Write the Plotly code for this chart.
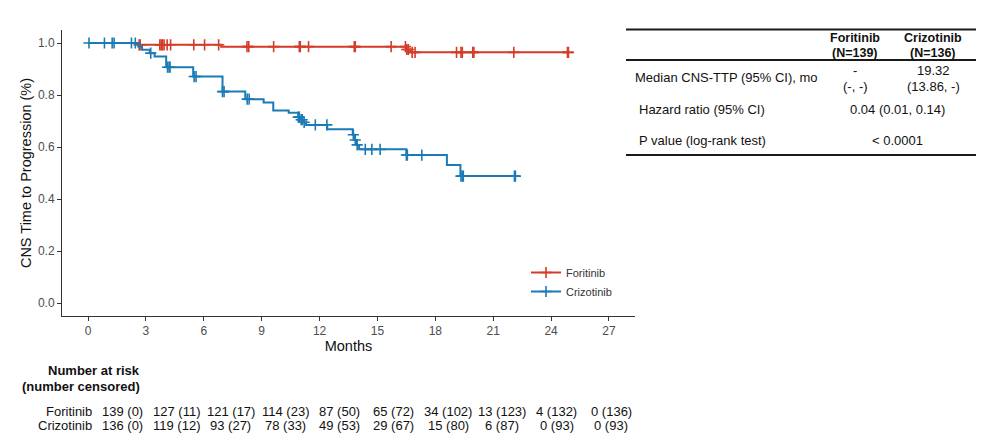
import plotly.graph_objects as go

# ---------------- data ----------------
month_ticks = [0, 3, 6, 9, 12, 15, 18, 21, 24, 27]
y_ticks = [0.0, 0.2, 0.4, 0.6, 0.8, 1.0]

series_names = ["Foritinib", "Crizotinib"]

foritinib_times = [0, 2.65, 6.9, 16.5, 16.7]
foritinib_surv = [1.0, 0.993, 0.986, 0.975, 0.964]
foritinib_end = 24.9
foritinib_censor = [2.65, 2.7, 3.72, 3.79, 3.85, 3.94, 4.1, 4.28, 5.48, 6.04, 6.77,
                    8.24, 8.33, 9.62, 10.95, 11.0, 11.43, 13.8, 13.85, 15.71, 16.45,
                    16.52, 16.6, 16.8, 16.95, 19.1, 19.33, 19.4, 19.94, 20.0, 22.07,
                    24.85, 24.9]

crizotinib_times = [0, 2.6, 2.8, 3.2, 3.45, 4.05, 5.45, 6.97, 8.15, 9.1, 9.6, 10.4,
                    10.9, 11.0, 11.15, 11.3, 12.4, 13.72, 13.82, 13.92, 14.05, 16.5,
                    18.6, 19.3]
crizotinib_surv = [1.0, 0.987, 0.974, 0.961, 0.948, 0.907, 0.871, 0.813, 0.784, 0.771,
                   0.740, 0.732, 0.715, 0.705, 0.695, 0.685, 0.668, 0.647, 0.627, 0.608,
                   0.591, 0.569, 0.531, 0.488]
crizotinib_end = 22.13
crizotinib_censor = [0.05, 0.85, 1.25, 1.35, 2.25, 2.45, 3.25, 4.12, 4.2, 4.25, 5.5,
                     5.6, 6.97, 7.05, 8.25, 8.35, 10.9, 10.95, 11.05, 11.1, 11.2, 11.78,
                     12.38, 13.75, 13.85, 13.95, 14.37, 14.71, 15.14, 16.5, 16.55, 17.3,
                     19.33, 19.4, 19.45, 22.1, 22.15]

risk_foritinib = [139, 127, 121, 114, 87, 65, 34, 13, 4, 0]
censored_foritinib = [0, 11, 17, 23, 50, 72, 102, 123, 132, 136]
risk_crizotinib = [136, 119, 93, 78, 49, 29, 15, 6, 0, 0]
censored_crizotinib = [0, 12, 27, 33, 53, 67, 80, 87, 93, 93]

header_names = ["Foritinib", "Crizotinib"]
header_n = ["(N=139)", "(N=136)"]
median_est = ["-", "19.32"]
median_ci = ["(-, -)", "(13.86, -)"]
hr_text = "0.04 (0.01, 0.14)"
p_text = "< 0.0001"

# ---------------- style ----------------
W, H = 991, 438
ML, MR, MT, MB = 62, 356, 30, 122
PW, PH = W - ML - MR, H - MT - MB
FONT = "Liberation Sans, Arial, sans-serif"
RED = "#D23C29"
BLUE = "#1A7BB6"
colors = [RED, BLUE]


def px(x):
    return (x - ML) / PW


def py(y):
    return (H - MB - y) / PH


def surv_at(times, surv, t):
    val = surv[0]
    for ti, s in zip(times, surv):
        if ti <= t:
            val = s
    return val


fig = go.Figure()

curves = [
    (foritinib_times, foritinib_surv, foritinib_end, foritinib_censor),
    (crizotinib_times, crizotinib_surv, crizotinib_end, crizotinib_censor),
]
for name, col, (times, surv, end, cens) in zip(series_names, colors, curves):
    fig.add_trace(go.Scatter(
        x=times + [end], y=surv + [surv[-1]], mode="lines",
        line=dict(color=col, width=2, shape="hv"), showlegend=False,
        hoverinfo="skip"))
    fig.add_trace(go.Scatter(
        x=cens, y=[surv_at(times, surv, t) for t in cens], mode="markers",
        marker=dict(symbol="cross-thin", size=8, line=dict(color=col, width=1.6)),
        showlegend=False, hoverinfo="skip"))
    fig.add_trace(go.Scatter(
        x=[None], y=[None], mode="lines+markers", name=name,
        line=dict(color=col, width=2),
        marker=dict(symbol="cross-thin", size=8, line=dict(color=col, width=1.6))))

axis_common = dict(showline=True, linecolor="#333333", linewidth=1, ticks="outside",
                   ticklen=4, tickcolor="#333333", showgrid=False, zeroline=False,
                   tickfont=dict(size=12, color="#4D4D4D", family=FONT))
fig.update_xaxes(range=[-1.35, 28.35], tickvals=month_ticks,
                 title=dict(text="Months", font=dict(size=14.5, color="#111111", family=FONT),
                            standoff=1),
                 **axis_common)
fig.update_yaxes(range=[-0.05, 1.05], tickvals=y_ticks, tickformat=".1f",
                 title=dict(text="CNS Time to Progression (%)",
                            font=dict(size=14.5, color="#111111", family=FONT), standoff=2),
                 **axis_common)

fig.update_layout(
    width=W, height=H, margin=dict(l=ML, r=MR, t=MT, b=MB, autoexpand=False),
    plot_bgcolor="white", paper_bgcolor="white",
    font=dict(family=FONT, color="#111111"),
    legend=dict(x=px(526), y=py(258), xanchor="left", yanchor="top",
                bgcolor="rgba(0,0,0,0)", font=dict(size=11, color="#333333", family=FONT),
                itemwidth=30, tracegroupgap=0),
)

ann = []


def add_text(x, y, text, anchor="center", size=13, bold=False):
    ann.append(dict(x=px(x), y=py(y), xref="paper", yref="paper", text=text,
                    showarrow=False, xanchor=anchor, yanchor="middle", align=anchor,
                    borderpad=0,
                    font=dict(size=size, family=FONT, color="#111111",
                              weight="bold" if bold else "normal")))


# Number-at-risk table
ROW1, ROW2 = 411.5, 425.5
add_text(141, 370.7, "Number at risk", anchor="right", size=13, bold=True)
add_text(141, 386.7, "(number censored)", anchor="right", size=13, bold=True)
add_text(93, ROW1, series_names[0], anchor="right", size=13)
add_text(93, ROW2, series_names[1], anchor="right", size=13)
for i in range(len(month_ticks)):
    cx = 122.3 + 54.3 * i
    add_text(cx, ROW1, f"{risk_foritinib[i]} ({censored_foritinib[i]})", size=13)
    add_text(cx, ROW2, f"{risk_crizotinib[i]} ({censored_crizotinib[i]})", size=13)

# Right summary table
col_x = [855, 933]
for j in range(2):
    add_text(col_x[j], 38.5, header_names[j], size=12.5, bold=True)
    add_text(col_x[j], 53, header_n[j], size=12.5, bold=True)
    add_text(col_x[j], 70, median_est[j], size=13)
    add_text(col_x[j], 86.5, median_ci[j], size=13)
add_text(634, 77.3, "Median CNS-TTP (95% CI), mo", anchor="left", size=13)
add_text(638, 110, "Hazard ratio (95% CI)", anchor="left", size=13)
add_text(897, 110, hr_text, size=13)
add_text(638, 140, "P value (log-rank test)", anchor="left", size=13)
add_text(897, 140, p_text, size=13)

shapes = []
for yy in [29.5, 60, 155]:
    shapes.append(dict(type="line", xref="paper", yref="paper", x0=px(626), x1=px(976),
                       y0=py(yy), y1=py(yy), line=dict(color="#1a1a1a", width=1.8)))

fig.update_layout(annotations=ann, shapes=shapes)

fig.write_html("out.html")
